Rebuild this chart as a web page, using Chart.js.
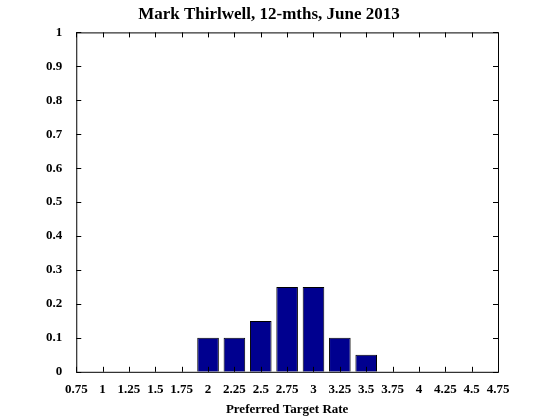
<!DOCTYPE html>
<html><head><meta charset="utf-8">
<script src="https://cdn.jsdelivr.net/npm/chart.js@4"></script>
<style>html,body{margin:0;background:#fff}#wrap{width:560px;height:419px}</style>
</head><body><div id="wrap"><canvas id="c"></canvas></div>
<script>
const rates = ['0.75','1','1.25','1.5','1.75','2','2.25','2.5','2.75','3','3.25','3.5','3.75','4','4.25','4.5','4.75'];
const probs = [0,0,0,0,0,0.1,0.1,0.15,0.25,0.25,0.1,0.05,0,0,0,0,0];
const yTicks = [0,0.1,0.2,0.3,0.4,0.5,0.6,0.7,0.8,0.9,1];

// frame + inward ticks, matlab style
const frame = {
  id:'frame',
  afterDraw(ch){
    const {ctx, chartArea:a, scales:{x,y}} = ch;
    ctx.save();
    ctx.strokeStyle='#000'; ctx.lineWidth=1;
    ctx.strokeRect(a.left+0.5,a.top+0.5,a.right-a.left,a.bottom-a.top);
    ctx.beginPath();
    rates.forEach((_,i)=>{
      const px=Math.round(x.getPixelForValue(i))+0.5;
      ctx.moveTo(px,a.bottom); ctx.lineTo(px,a.bottom-5);
      ctx.moveTo(px,a.top); ctx.lineTo(px,a.top+5);
    });
    yTicks.forEach(v=>{
      const py=Math.round(y.getPixelForValue(v))+0.5;
      ctx.moveTo(a.left,py); ctx.lineTo(a.left+5,py);
      ctx.moveTo(a.right,py); ctx.lineTo(a.right-5,py);
    });
    ctx.stroke();
    ctx.restore();
  }
};

const font = {family:'"Liberation Serif", "DejaVu Serif", serif', size:13, weight:'bold'};
new Chart(document.getElementById('c'),{
  type:'bar',
  data:{labels:rates, datasets:[{data:probs, backgroundColor:'#00008f', borderColor:'#000', borderWidth:1,
    barPercentage:0.82, categoryPercentage:1}]},
  options:{
    responsive:true, maintainAspectRatio:false, animation:false,
    layout:{padding:{top:0,right:62,bottom:0,left:40}},
    plugins:{legend:{display:false}, tooltip:{enabled:false},
      title:{display:true, text:'Mark Thirlwell, 12-mths, June 2013', color:'#000',
        font:{family:font.family,size:17,weight:'bold'}, padding:{top:4,bottom:8}}},
    scales:{
      x:{offset:false, grid:{display:false}, border:{display:false},
        ticks:{color:'#000', font, maxRotation:0, autoSkip:false, padding:2},
        title:{display:true, text:'Preferred Target Rate', color:'#000', font, padding:{top:2,bottom:2}}},
      y:{min:0, max:1, grid:{display:false}, border:{display:false},
        afterBuildTicks:s=>{s.ticks=yTicks.map(v=>({value:v}));},
        ticks:{color:'#000', font, padding:6, callback:v=>String(+v.toFixed(1))}}
    }
  },
  plugins:[frame]
});
</script></body></html>
